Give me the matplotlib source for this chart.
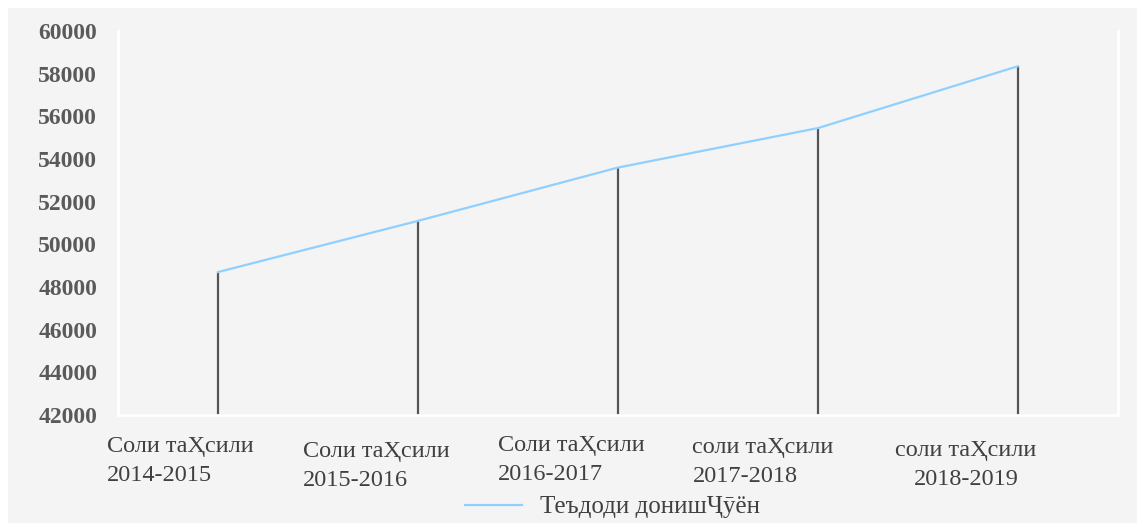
import numpy as np
import matplotlib.pyplot as plt
from matplotlib.patches import Rectangle

plt.rcParams['font.family'] = ['Liberation Serif', 'DejaVu Serif']

# data
years = ['Соли таҲсили\n2014-2015', 'Соли таҲсили\n2015-2016', 'Соли таҲсили\n2016-2017',
         'соли таҲсили\n2017-2018', 'соли таҲсили\n2018-2019']
students = [48700, 51100, 53600, 55450, 58350]
series_name = 'Теъдоди донишҶӯён'
yticks = np.arange(42000, 60001, 2000)

# label placement (pixels, relative to tick)
lbl_dx = [-38, -42, -47, -55, -52]
lbl_dy = [-46, -51, -45, -47, -50]
lbl_align = ['left', 'left', 'left', 'left', 'center']

fig = plt.figure(figsize=(11.37, 5.23), dpi=100, facecolor='white')
fig.patches.append(Rectangle((8 / 1137, 0), 1, 1 - 8 / 523, transform=fig.transFigure,
                             facecolor='#f4f4f4', edgecolor='none', zorder=-10))
ax = fig.add_axes([118 / 1137, 108 / 523, 1000 / 1137, 384 / 523])
ax.set_facecolor('#f4f4f4')

x = np.arange(len(years))
ax.vlines(x, 42000, students, color='#555555', linewidth=1.6, zorder=2)
ax.plot(x, students, color='#8fd0ff', linewidth=1.6, label=series_name, zorder=3)

ax.set_xlim(-0.5, len(years) - 0.5)
ax.set_ylim(42000, 60000)
ax.set_yticks(yticks)
ax.set_yticklabels([str(v) for v in yticks], fontsize=17, fontweight='bold', color='#5a5a5a')
ax.set_xticks([])
ax.tick_params(axis='y', length=0, pad=15)

for s in ['left', 'bottom', 'right']:
    ax.spines[s].set_color('white')
    ax.spines[s].set_linewidth(2)
ax.spines['top'].set_visible(False)

for i, lab in enumerate(years):
    ax.annotate(lab, xy=(x[i], 0), xycoords=ax.get_xaxis_transform(),
                xytext=(lbl_dx[i] * 0.72, lbl_dy[i] * 0.72), textcoords='offset points',
                ha='center', va='center', multialignment=lbl_align[i],
                fontsize=17.5, color='#404040', linespacing=1.45)

ax.legend(loc='center', bbox_to_anchor=(0.494, -0.24), frameon=False,
          fontsize=18, handlelength=2.3, handletextpad=0.7, labelcolor='#404040')

fig.savefig('out.png', dpi=100, facecolor=fig.get_facecolor())
